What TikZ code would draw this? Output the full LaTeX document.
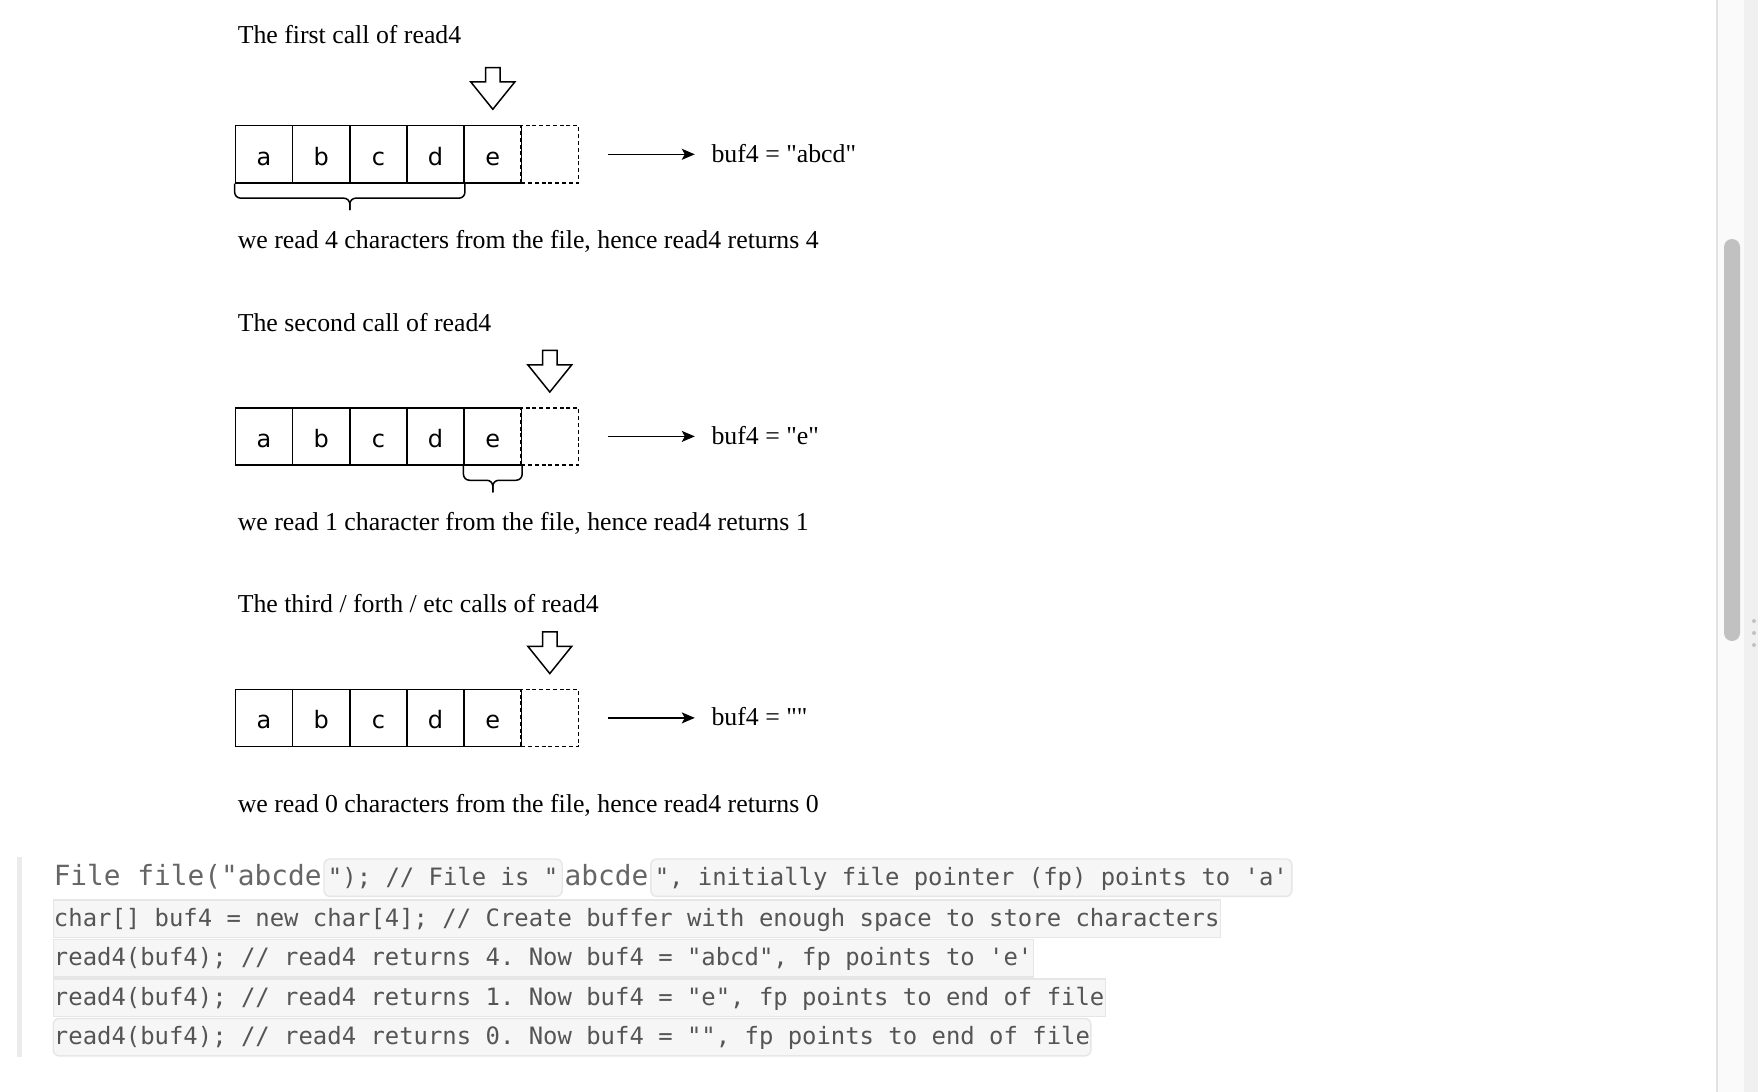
\documentclass[tikz,border=0pt]{standalone}
\usepackage{fontspec}
\setmainfont{Liberation Serif}[Ligatures=TeXOff]
\newfontfamily\cellfont{DejaVu Sans}
\newfontfamily\codefont{DejaVu Sans Mono}[Ligatures=TeXOff]
\usetikzlibrary{positioning,calc,arrows.meta}
\frenchspacing

\definecolor{codebg}{HTML}{F6F6F6}
\definecolor{codeedge}{HTML}{E6E6E6}
\definecolor{codeink}{HTML}{555555}
\definecolor{bigink}{HTML}{666666}
\definecolor{quotebar}{HTML}{EBEBEB}
\definecolor{sbpanel}{HTML}{FAFAFA}
\definecolor{sbside}{HTML}{F0F0F0}
\definecolor{sbline}{HTML}{E2E2E2}
\definecolor{sbthumb}{HTML}{C1C1C1}

\tikzset{
  cell/.style={draw, minimum size=28.6pt, inner sep=0pt, text height=10.8pt, text depth=0pt,
    font=\cellfont\fontsize{12}{14}\selectfont},
  txt/.style={inner sep=0pt, anchor=base west, font=\fontsize{12.9}{15}\selectfont},
  ptr/.pic={\draw[fill=white] (0,0) -- (-22,-27.3) -- (-7.2,-27.3) -- (-7.2,-41.7)
    -- (7.2,-41.7) -- (7.2,-27.3) -- (22,-27.3) -- cycle;},
  codetext/.style={anchor=base west, inner ysep=0pt, text height=13pt, text depth=5.7pt,
    text=codeink, font=\codefont\fontsize{11.95}{14}\selectfont},
  codebox/.style={codetext, fill=codebg, draw=codeedge, line width=0.7pt, rounded corners=3pt, inner xsep=2pt},
  codeline/.style={codetext, fill=codebg, draw=codeedge, line width=0.7pt, inner xsep=0.4pt},
  bigcode/.style={codetext, inner xsep=0pt, text=bigink, font=\codefont\fontsize{13.9}{16}\selectfont},
}

\begin{document}
\begin{tikzpicture}[x=0.5pt, y=-0.5pt, line width=0.75pt, >={Stealth[length=6.5pt, width=5.5pt, inset=1.5pt]}]
  \fill[white] (0,0) rectangle (1758,1092);
  \useasboundingbox (0,0) rectangle (1758,1092);

  \node[txt] (t1) at (237,43.3) {The first call of read4};
  \node[txt] (t2) at (237,331) {The second call of read4};
  \node[txt] (t3) at (237,612.5) {The third / forth / etc calls of read4};

  \foreach \r/\y/\buf in {1/154.3/abcd, 2/436.4/e, 3/717.9/{}} {
    \foreach \ch [count=\i] in {a,b,c,d,e}
      \node[cell] (r\r-\i) at ({206.8+57.2*\i},\y) {\ch};
    \node[cell, dash pattern=on 2pt off 1.4pt] (r\r-6) at (549.8,\y) {};
    \node[txt] (b\r) at (710.8,\y+8) {buf4 = "\buf"};
    \coordinate (s\r) at ($(r\r-6.east)+(28.5,0)$);
    \draw[->, shorten >=8pt] (s\r) -- (s\r -| b\r.west);
  }

  \pic at ($(r1-5.north)+(0,-15.7)$) {ptr};
  \pic at ($(r2-6.north)+(0,-15)$) {ptr};
  \pic at ($(r3-6.north)+(0,-15)$) {ptr};

  \coordinate (m1) at ($(r1-1.south west)!.5!(r1-4.south east)+(0,14.5)$);
  \draw[rounded corners=3pt] (r1-1.south west) |- (m1) -- ++(0,12);
  \draw[rounded corners=3pt] (r1-4.south east) |- (m1) -- ++(0,12);
  \coordinate (m2) at ($(r2-5.south west)!.5!(r2-5.south east)+(0,14.5)$);
  \draw[rounded corners=3pt] (r2-5.south west) |- (m2) -- ++(0,12);
  \draw[rounded corners=3pt] (r2-5.south east) |- (m2) -- ++(0,12);

  \node[txt] (w1) at (237,248.3) {we read 4 characters from the file, hence read4 returns 4};
  \node[txt] (w2) at (237,530.5) {we read 1 character from the file, hence read4 returns 1};
  \node[txt] (w3) at (237,812) {we read 0 characters from the file, hence read4 returns 0};

  \fill[quotebar] (17,857) rectangle (22,1057);
  \node[bigcode] (f1) at (53,885) {File file("abcde};
  \node[codebox] (f2) at ([xshift=0.5pt]f1.base east) {"); // File is "};
  \node[bigcode] (f3) at ([xshift=0.5pt]f2.base east) {abcde};
  \node[codebox] (f4) at ([xshift=0.5pt]f3.base east) {", initially file pointer (fp) points to 'a'};
  \node[codeline] (l2) at (52.5,926) {char[] buf4 = new char[4]; // Create buffer with enough space to store characters};
  \node[codeline] (l3) at (52.5,965.5) {read4(buf4); // read4 returns 4. Now buf4 = "abcd", fp points to 'e'};
  \node[codeline] (l4) at (52.5,1005) {read4(buf4); // read4 returns 1. Now buf4 = "e", fp points to end of file};
  \node[codeline, rounded corners=3pt] (l5) at (52.5,1044.5) {read4(buf4); // read4 returns 0. Now buf4 = "", fp points to end of file};

  \fill[sbpanel] (1717,0) rectangle (1744,1092);
  \fill[sbside] (1744,0) rectangle (1758,1092);
  \draw[sbline, line width=1pt] (1716.5,0) -- (1716.5,1092);
  \fill[sbthumb, rounded corners=4pt] (1724,239) rectangle (1740,641);
  \foreach \d in {621,633,645}
    \fill[sbthumb] (1754,\d) circle (1pt);
\end{tikzpicture}
\end{document}
